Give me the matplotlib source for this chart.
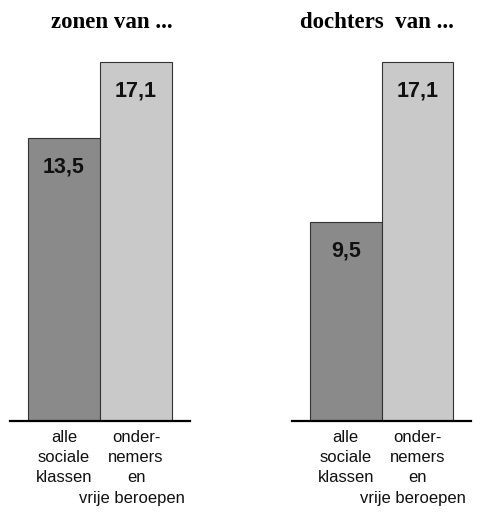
import matplotlib
matplotlib.use("Agg")
import matplotlib.pyplot as plt

titles = ["zonen van ...", "dochters  van ..."]
categories = ["alle\nsociale\nklassen", "onder-\nnemers\nen\nvrije beroepen"]
sons = [13.5, 17.1]
daughters = [9.5, 17.1]
value_labels_sons = ["13,5", "17,1"]
value_labels_daughters = ["9,5", "17,1"]

colors = ["#8a8a8a", "#c9c9c9"]

W, H = 481, 523
fig = plt.figure(figsize=(W / 100, H / 100), dpi=100)
fig.patch.set_facecolor("white")

ymax = 18.0
axh = ymax * 359 / 17.1  # px
panels = [
    (10, 180, sons, value_labels_sons, titles[0], 112),
    (292, 179, daughters, value_labels_daughters, titles[1], 377),
]
px2pt = 72 / 100
for left, width, vals, vlabels, title, tx in panels:
    ax = fig.add_axes([left / W, 1 - 421 / H, width / W, axh / H])
    xs = [0, 1]
    ax.bar(xs, vals, width=1.0, color=colors, edgecolor="#333333", linewidth=0.8)
    ax.set_xlim(-0.75, 1.75)
    ax.set_ylim(0, ymax)
    for s in ["top", "right", "left"]:
        ax.spines[s].set_visible(False)
    ax.spines["bottom"].set_linewidth(1.6)
    ax.set_yticks([])
    ax.set_xticks([])
    for x, cat in zip(xs, categories):
        for k, line in enumerate(cat.split("\n")):
            dx = -4 if len(line) > 10 else 0
            ax.annotate(line, (x, 0), xycoords=("data", "axes fraction"),
                        xytext=(dx * px2pt, -(17 + 20 * k) * px2pt),
                        textcoords="offset points", ha="center", va="center",
                        fontsize=12, family="Liberation Sans", color="#111111",
                        annotation_clip=False)
    for x, v, lab in zip(xs, vals, vlabels):
        ax.annotate(lab, (x, v), xytext=(0, -21), textcoords="offset points",
                    ha="center", va="center", fontsize=15.5, fontweight="bold",
                    family="Liberation Sans", color="#111111")
    fig.text(tx / W, 1 - 22 / H, title, ha="center", va="center",
             fontsize=16.5, fontweight="bold", family="Liberation Serif")

fig.savefig("out.png", dpi=100, facecolor="white")
